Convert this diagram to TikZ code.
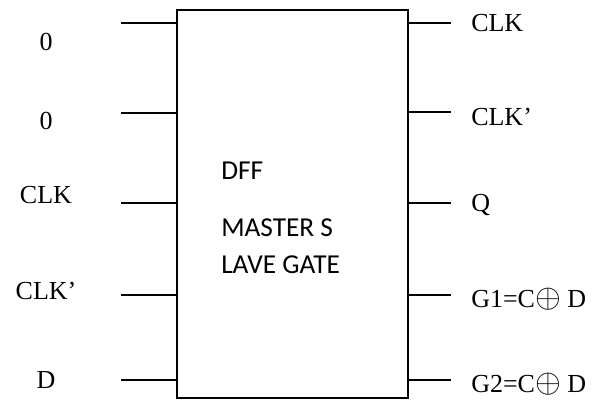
\documentclass[tikz,border=0pt]{standalone}
\usepackage{fontspec}
\setmainfont{Liberation Serif}
\newfontfamily\gatefont{Carlito}
\usepackage{graphicx}
\usepackage{tikz}

\newcommand{\xorsign}{\scalebox{1.2}{$\oplus$}}

\tikzset{
    pin/.style={line width=1.1pt},
    pinlabel/.style={font=\fontsize{19.5}{23}\selectfont, inner sep=0pt},
    gatetext/.style={anchor=west, inner sep=0pt, font=\gatefont\fontsize{20.5}{24}\selectfont},
    gatebox/.style={draw, line width=1.1pt, minimum width=231*0.75pt, minimum height=388*0.75pt, inner sep=0pt}
}

\begin{document}
\begin{tikzpicture}[x=0.75pt, y=-0.75pt]
\useasboundingbox (0,0) rectangle (597,405);
\node[gatebox] (dff) at (292.5,204) {};
% pins on the left side
\foreach \n/\y/\ly/\t in {a/23/42/0, b/113/121/0, c/203/195/CLK, d/295/291/CLK’, e/380/380/D}{
    \coordinate (in\n) at (121,\y);
    \draw[pin] (in\n) -- (in\n -| dff.west);
    \node[pinlabel] (lin\n) at (46,\ly) {\t};
}
% pins on the right side
\foreach \n/\y/\ly/\t in {a/23/23/CLK, b/112/117/CLK’, c/203/205/Q, d/295/299/G1=C\xorsign{} D, e/380/384/G2=C\xorsign{} D}{
    \coordinate (out\n) at (451,\y);
    \draw[pin] (out\n -| dff.east) -- (out\n);
    \node[pinlabel, anchor=west] (lout\n) at (471,\ly) {\t};
}
\node[gatetext] (name) at (221,171) {DFF};
\node[gatetext] (kind) at (221,228) {MASTER S};
\node[gatetext] (kindb) at (221,265) {LAVE GATE};
\end{tikzpicture}
\end{document}
